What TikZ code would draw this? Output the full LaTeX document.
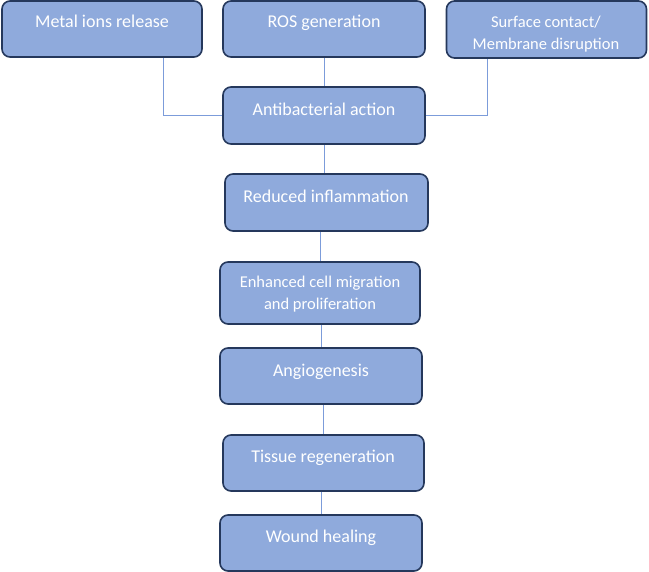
\documentclass[tikz,border=0pt]{standalone}
\usepackage{fontspec}
\setmainfont{Carlito}
\definecolor{boxfill}{HTML}{8FAADC}
\definecolor{boxline}{HTML}{25385C}
\definecolor{conn}{HTML}{7C9CDA}
\begin{document}
\begin{tikzpicture}[x=1bp,y=-1bp,
  box/.style={draw=boxline, fill=boxfill, line width=1.6bp, rounded corners=8bp, inner sep=0pt},
  lbl/.style={text=white, font=\fontsize{18bp}{22bp}\selectfont, align=center, inner sep=0pt, text height=12bp, text depth=4bp},
  lbls/.style={text=white, font=\fontsize{16.5bp}{22bp}\selectfont, align=center, inner sep=0pt},
  link/.style={draw=conn, line width=1bp}]
\useasboundingbox (0,0) rectangle (649,572);
% boxes
\node[box, minimum width=200bp, minimum height=56bp] (b1) at (102,29) {};
\node[box, minimum width=202bp, minimum height=56bp] (b2) at (324,29) {};
\node[box, minimum width=200bp, minimum height=57bp] (b3) at (546.5,29.5) {};
\node[box, minimum width=202bp, minimum height=57bp] (b4) at (324,115.5) {};
\node[box, minimum width=203bp, minimum height=57bp] (b5) at (326.5,202.5) {};
\node[box, minimum width=200bp, minimum height=62bp] (b6) at (320,293) {};
\node[box, minimum width=202bp, minimum height=56bp] (b7) at (321,376) {};
\node[box, minimum width=201bp, minimum height=56bp] (b8) at (323.5,463) {};
\node[box, minimum width=202bp, minimum height=56bp] (b9) at (321,543) {};
% labels
\node[lbl] (t1) at (102,23.5) {Metal ions release};
\node[lbl] (t2) at (324,23.5) {ROS generation};
\node[lbls] (t3) at (546,34.5) {Surface contact/\\Membrane disruption};
\node[lbl] (t4) at (324,111.5) {Antibacterial action};
\node[lbl] (t5) at (326,198.5) {Reduced inflammation};
\node[lbls] (t6) at (320,294.5) {Enhanced cell migration\\and proliferation};
\node[lbl] (t7) at (321,372.5) {Angiogenesis};
\node[lbl] (t8) at (323,458.5) {Tissue regeneration};
\node[lbl] (t9) at (321,538.5) {Wound healing};
% connectors
\draw[link] ([xshift=61bp]b1.south) |- (b4.west);
\draw[link] (b2.south) -- (b4.north);
\draw[link] ([xshift=-59.5bp]b3.south) |- (b4.east);
\draw[link] (b4.south) -- (b4.south |- b5.north);
\draw[link] (b6.north |- b5.south) -- (b6.north);
\draw[link] (b7.north |- b6.south) -- (b7.north);
\draw[link] (b8.north |- b7.south) -- (b8.north);
\draw[link] (b9.north |- b8.south) -- (b9.north);
\end{tikzpicture}
\end{document}
